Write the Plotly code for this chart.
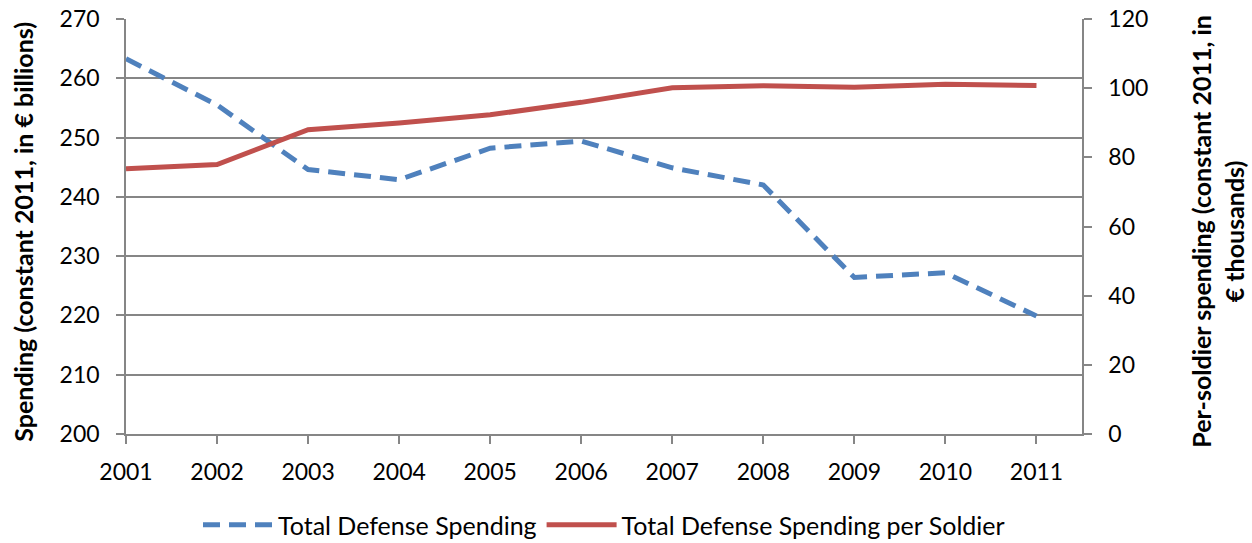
import plotly.graph_objects as go

# Years on the category axis
years = ["2001", "2002", "2003", "2004", "2005", "2006",
         "2007", "2008", "2009", "2010", "2011"]

# Total defense spending, constant 2011 € billions (left axis)
total_spending = [263.3, 255.5, 244.6, 242.9, 248.2, 249.4,
                  244.9, 242.0, 226.4, 227.2, 219.9]

# Spending per soldier, constant 2011 € thousands (right axis)
per_soldier = [76.7, 77.9, 88.0, 89.9, 92.3, 95.9,
               100.1, 100.7, 100.3, 101.1, 100.8]

FONT = "Lato"
BLUE = "#4F81BD"
RED = "#C0504D"
AXIS_GREY = "#868686"
TICK_SIZE = 23
TITLE_SIZE = 25

fig = go.Figure()

fig.add_trace(go.Scatter(
    x=years, y=total_spending, name="Total Defense Spending",
    mode="lines", line=dict(color=BLUE, width=5, dash="17px,9px"),
    yaxis="y",
))
fig.add_trace(go.Scatter(
    x=years, y=per_soldier, name="Total Defense Spending per Soldier",
    mode="lines", line=dict(color=RED, width=5),
    yaxis="y2",
))

axis_common = dict(
    showline=True, linecolor=AXIS_GREY, linewidth=1.5,
    ticks="outside", ticklen=8, tickcolor=AXIS_GREY, tickwidth=1.5,
    zeroline=False, tickfont=dict(family=FONT, size=TICK_SIZE),
)

fig.update_layout(
    width=1252, height=543,
    margin=dict(l=126, r=170, t=19, b=109, autoexpand=False),
    paper_bgcolor="white", plot_bgcolor="white",
    font=dict(family=FONT, size=TICK_SIZE, color="#000000"),
    showlegend=True,
    legend=dict(
        orientation="h", x=0.5, xanchor="center",
        yref="container", y=0.033, yanchor="middle",
        font=dict(family=FONT, size=25), itemwidth=70,
        traceorder="normal",
    ),
    xaxis=dict(
        type="category", range=[0, 10.5], showgrid=False,
        ticklabelstandoff=9, **axis_common,
    ),
    yaxis=dict(
        range=[200, 270], dtick=10,
        showgrid=True, gridcolor=AXIS_GREY, gridwidth=1.5,
        ticklabelstandoff=12, **axis_common,
    ),
    yaxis2=dict(
        range=[0, 120], dtick=20, overlaying="y", side="right",
        showgrid=False, ticklabelstandoff=12, **axis_common,
    ),
    annotations=[
        dict(
            text="<b>Spending (constant 2011, in € billions)</b>",
            textangle=-90, xref="paper", yref="paper",
            x=-0.1077, y=0.4875, xanchor="center", yanchor="middle",
            showarrow=False, font=dict(family=FONT, size=TITLE_SIZE),
        ),
        dict(
            text="<b>Per-soldier spending (constant 2011, in<br>€ thousands)</b>",
            textangle=-90, xref="paper", yref="paper",
            x=1.1423, y=0.4875, xanchor="center", yanchor="middle",
            showarrow=False, font=dict(family=FONT, size=TITLE_SIZE),
        ),
    ],
)

fig.write_html("out.html")
